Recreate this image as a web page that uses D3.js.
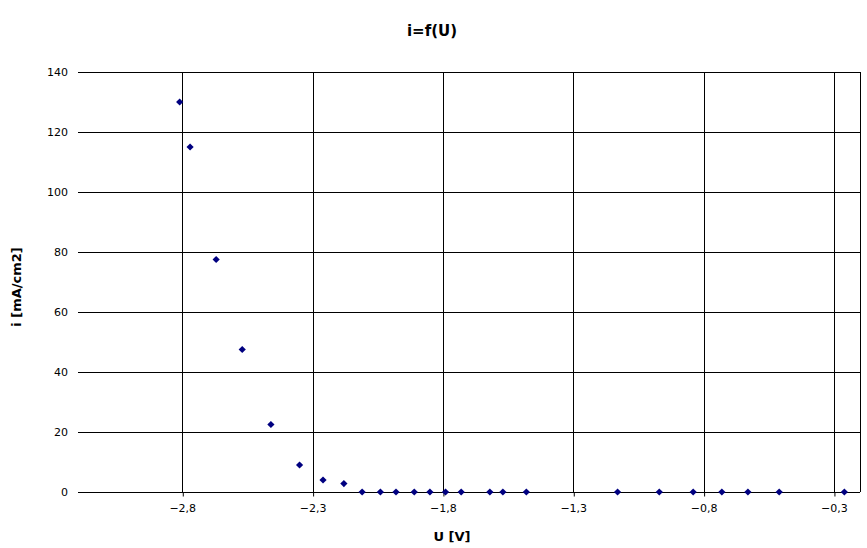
<!DOCTYPE html>
<html>
<head>
<meta charset="utf-8">
<script src="https://cdn.jsdelivr.net/npm/d3@7"></script>
<style>
  body { margin: 0; background: #fff; }
  svg { font-family: "DejaVu Sans", sans-serif; }
</style>
</head>
<body>
<div id="chart"></div>
<script>
// measured points, U in volts, i in mA/cm2
let voltage = [-2.81, -2.77, -2.67, -2.57, -2.46, -2.35, -2.26, -2.18, -2.11, -2.04, -1.98, -1.91, -1.85, -1.79, -1.73, -1.62, -1.57, -1.48, -1.13, -0.97, -0.84, -0.73, -0.63, -0.51, -0.26];
let current = [130, 115, 77.5, 47.5, 22.5, 9, 4, 2.8, 0, 0, 0, 0, 0, 0, 0, 0, 0, 0, 0, 0, 0, 0, 0, 0, 0];
let xTicks = [-2.8, -2.3, -1.8, -1.3, -0.8, -0.3];
let yTicks = [0, 20, 40, 60, 80, 100, 120, 140];

var width = 867, height = 548;
var margin = {top: 72, right: 7, bottom: 56, left: 78};
var w = width - margin.left - margin.right,
    h = height - margin.top - margin.bottom;

var locale = d3.formatLocale({decimal: ",", thousands: ".", grouping: [3], currency: ["", ""]});
var fmt = locale.format(".1f");

var svg = d3.select("#chart").append("svg")
    .attr("width", width)
    .attr("height", height);

var g = svg.append("g")
    .attr("transform", "translate(" + margin.left + "," + margin.top + ")");

var x = d3.scaleLinear().domain([-3.2, -0.2]).range([0, w]);
var y = d3.scaleLinear().domain([0, 140]).range([h, 0]);

// horizontal grid
g.selectAll(".hgrid")
  .data(yTicks)
  .enter().append("line")
    .attr("x1", 0).attr("x2", w)
    .attr("y1", function(d) { return Math.round(y(d)) + 0.5; })
    .attr("y2", function(d) { return Math.round(y(d)) + 0.5; })
    .attr("stroke", "#000");

// vertical grid
g.selectAll(".vgrid")
  .data(xTicks)
  .enter().append("line")
    .attr("x1", function(d) { return Math.round(x(d)) + 0.5; })
    .attr("x2", function(d) { return Math.round(x(d)) + 0.5; })
    .attr("y1", 0).attr("y2", h)
    .attr("stroke", "#000");

// right border
g.append("line")
  .attr("x1", w + 0.5).attr("x2", w + 0.5)
  .attr("y1", 0).attr("y2", h)
  .attr("stroke", "#000");

// x axis
var xAxis = g.append("g")
  .attr("transform", "translate(0," + (Math.round(h) + 0.5) + ")")
  .call(d3.axisBottom(x).tickValues(xTicks).tickFormat(fmt).tickSize(4).tickPadding(8));
xAxis.select(".domain").remove();
xAxis.selectAll(".tick line").attr("stroke", "#000").attr("transform", "translate(0.5,0)");
xAxis.selectAll("text").attr("font-size", 11).attr("font-family", "DejaVu Sans").attr("fill", "#000");

// y axis
var yAxis = g.append("g")
  .call(d3.axisLeft(y).tickValues(yTicks).tickSize(0).tickPadding(10));
yAxis.select(".domain").remove();
yAxis.selectAll("text").attr("font-size", 11).attr("font-family", "DejaVu Sans").attr("fill", "#000");

// points
var data = voltage.map(function(u, k) { return {u: u, i: current[k]}; });
g.selectAll(".pt")
  .data(data)
  .enter().append("path")
    .attr("class", "pt")
    .attr("d", d3.symbol(d3.symbolSquare, 26))
    .attr("transform", function(d) { return "translate(" + x(d.u) + "," + y(d.i) + ") rotate(45)"; })
    .attr("fill", "#000080");

// titles
svg.append("text")
  .attr("x", 432).attr("y", 36)
  .attr("text-anchor", "middle")
  .attr("font-size", 15).attr("font-weight", "bold")
  .text("i=f(U)");

svg.append("text")
  .attr("x", 452).attr("y", 541)
  .attr("text-anchor", "middle")
  .attr("font-size", 13).attr("font-weight", "bold")
  .text("U [V]");

svg.append("text")
  .attr("transform", "translate(21,287) rotate(-90)")
  .attr("text-anchor", "middle")
  .attr("font-size", 13).attr("font-weight", "bold")
  .text("i [mA/cm2]");
</script>
</body>
</html>
